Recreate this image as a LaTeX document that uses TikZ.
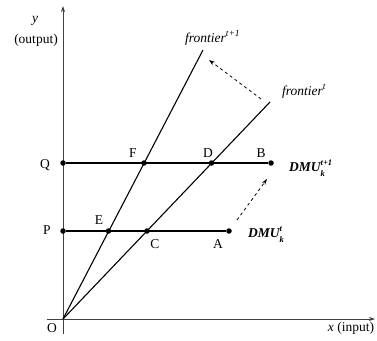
\documentclass[tikz,border=0pt]{standalone}
\usepackage{fontspec}
\setmainfont{Liberation Serif}
\usetikzlibrary{arrows.meta}
\newcommand{\supsub}[2]{\rlap{\raisebox{0.42em}{\fontsize{8.5}{9}\selectfont #1}}\raisebox{-0.38em}{\fontsize{8.5}{9}\selectfont #2}}
\begin{document}
\begin{tikzpicture}[x=1pt,y=-1pt,
  font=\fontsize{13.5}{16}\selectfont,
  dot/.style={circle,fill=black,inner sep=0pt,minimum size=5.5pt},
  lab/.style={inner sep=1pt},
  axis/.style={draw=black!75,line width=0.9pt,-{Stealth[length=6pt,width=4pt]}},
  level/.style={line width=1.8pt},
  front/.style={line width=1.1pt},
  movearrow/.style={dashed,line width=0.8pt,-{Stealth[length=6pt,width=4pt]}}]
\useasboundingbox (0,0) rectangle (377,340);
% axes
\coordinate (ybot) at (63,334);
\coordinate (ytop) at (63,6);
\coordinate (xleft) at (47,319);
\coordinate (xright) at (375,319);
\draw[axis] (ybot) -- (ytop);
\draw[axis] (xleft) -- (xright);
\coordinate (O) at (63,319);
% points
\node[dot] (Q) at (63,163) {};
\node[dot] (F) at (144,163) {};
\node[dot] (D) at (211.5,163) {};
\node[dot] (B) at (271,163) {};
\node[dot] (P) at (63,231) {};
\node[dot] (E) at (108.5,231) {};
\node[dot] (C) at (147,231) {};
\node[dot] (A) at (229,231) {};
% frontier lines
\coordinate (f1end) at (203,50);
\coordinate (f0end) at (270,102);
\draw[front] (O) -- (f1end);
\draw[front] (O) -- (f0end);
% level lines
\draw[level] (Q) -- (B);
\draw[level] (P) -- (A);
% shift arrows
\coordinate (s1a) at (261,99);
\coordinate (s1b) at (209,60);
\coordinate (s2a) at (237,220);
\coordinate (s2b) at (267,179);
\draw[movearrow] (s1a) -- (s1b);
\draw[movearrow] (s2a) -- (s2b);
% labels
\node[lab] (lQ) at (45,165) {Q};
\node[lab] (lF) at (133,153) {F};
\node[lab] (lD) at (208,153) {D};
\node[lab] (lB) at (261,153) {B};
\node[lab] (lP) at (47,230) {P};
\node[lab] (lE) at (99,220) {E};
\node[lab] (lC) at (155,244) {C};
\node[lab] (lA) at (218,244) {A};
\node[lab] (lO) at (52,328) {O};
\node[lab] (ly) at (35,21) {\textit{y}};
\node[lab] (lout) at (36,40) {(output)};
\node[lab] (lx) at (351,328) {\textit{x} (input)};
\node[lab,anchor=base west] (lf1) at (184,42) {\textit{frontier\textsuperscript{t+1}}};
\node[lab,anchor=base west] (lf0) at (281,95) {\textit{frontier\textsuperscript{t}}};
\node[lab,anchor=base west] (ldmu1) at (288,171) {\textbf{\textit{DMU\supsub{t+1}{k}}}};
\node[lab,anchor=base west] (ldmu0) at (247,237) {\textbf{\textit{DMU\supsub{t}{k}}}};
\end{tikzpicture}
\end{document}
